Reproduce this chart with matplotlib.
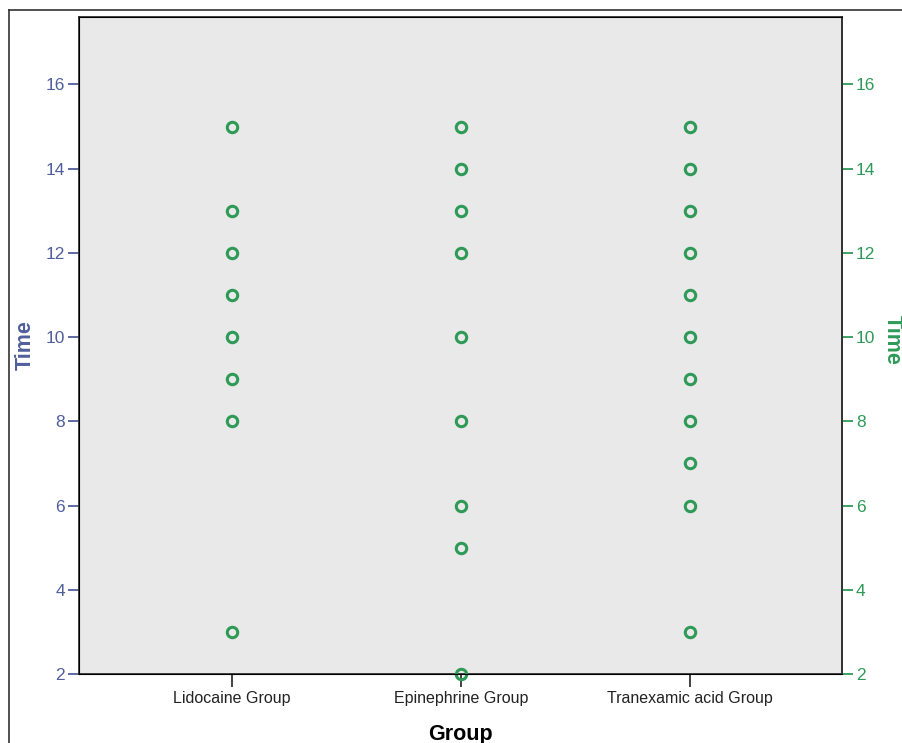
import matplotlib.pyplot as plt
import numpy as np

plt.rcParams["font.family"] = ["Liberation Sans", "DejaVu Sans"]

groups = ["Lidocaine Group", "Epinephrine Group", "Tranexamic acid Group"]
lidocaine = [15, 13, 12, 11, 10, 9, 8, 3]
epinephrine = [15, 14, 13, 12, 10, 8, 6, 5, 2]
tranexamic = [15, 14, 13, 12, 11, 10, 9, 8, 7, 6, 3]
y_ticks = [2, 4, 6, 8, 10, 12, 14, 16]

blue = "#4f5f9c"
green = "#2f9a58"

fig = plt.figure(figsize=(9.03, 7.43), dpi=100)
ax = fig.add_axes([79 / 903, 1 - 674 / 743, (842 - 79) / 903, (674 - 17) / 743])
ax.set_facecolor("#e9e9e9")

for i, vals in enumerate([lidocaine, epinephrine, tranexamic]):
    ax.plot(np.full(len(vals), i), vals, "o", ms=7.5, mfc="none",
            mec=green, mew=2.2, clip_on=False, zorder=3)

ax.set_xlim(-0.668, 2.664)
ax.set_ylim(2, 17.6)
ax.set_xticks(range(3))
ax.set_xticklabels(groups, fontsize=11.5, color="#222222")
ax.set_yticks(y_ticks)
ax.tick_params(axis="x", length=9, width=1.3, color="#333333", pad=3)
ax.tick_params(axis="y", length=8, width=1.3, colors=blue, labelsize=12.5, pad=2)
for s in ax.spines.values():
    s.set_color("#333333")
    s.set_linewidth(1.3)

ax2 = ax.twinx()
ax2.set_ylim(ax.get_ylim())
ax2.set_yticks(y_ticks)
ax2.tick_params(axis="y", length=8, width=1.3, colors=green, labelsize=12.5, pad=2)
ax2.spines["right"].set_color("#333333")
ax2.spines["right"].set_linewidth(1.3)

ax.set_xlabel("Group", fontsize=15.5, fontweight="bold", labelpad=13)
fig.text(25 / 903, 1 - 345 / 743, "Time", rotation=90, ha="center", va="center",
         fontsize=15.5, fontweight="bold", color=blue)
fig.text(892 / 903, 1 - 340 / 743, "Time", rotation=-90, ha="center", va="center",
         fontsize=15.5, fontweight="bold", color=green)

# outer frame lines (left and top)
fig.add_artist(plt.Line2D([9 / 903, 9 / 903], [0, 1 - 10 / 743], color="#333333", lw=1.2))
fig.add_artist(plt.Line2D([9 / 903, 1], [1 - 10 / 743, 1 - 10 / 743], color="#333333", lw=1.2))

fig.savefig("out.png", dpi=100)
